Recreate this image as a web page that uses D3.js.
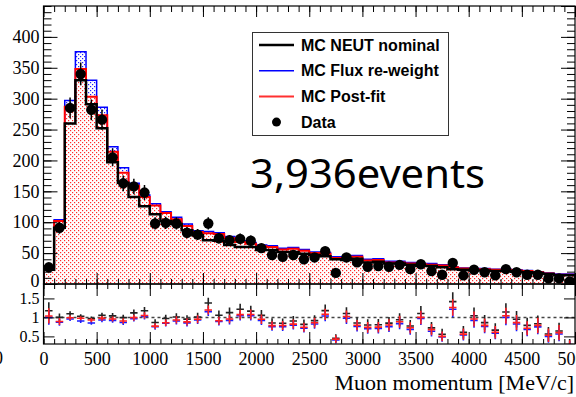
<!DOCTYPE html>
<html>
<head>
<meta charset="utf-8">
<script src="https://cdn.jsdelivr.net/npm/d3@7"></script>
<style>
  body { margin: 0; background: #fff; }
  svg { display: block; }
</style>
</head>
<body>
<div id="chart"></div>
<script>
// bin edges (MeV/c), 100 MeV bins
const binEdges = d3.range(0, 5001, 100);
const xTickLabels = [0, 500, 1000, 1500, 2000, 2500, 3000, 3500, 4000, 4500, 5000];
const yTickLabels = [0, 50, 100, 150, 200, 250, 300, 350, 400];
const ratioTickLabels = [0.5, 1, 1.5];

// events per bin
const dataCounts = [27, 91, 285, 340, 282, 266, 205, 163, 158, 148,
  98, 99, 98, 83, 80, 98, 74, 71, 73, 70,
  58, 47, 44, 47, 40, 43, 53, 18, 43, 35,
  28, 29, 28, 31, 24, 32, 21, 15, 34, 14,
  23, 19, 14, 24, 19, 15, 15, 9, 9, 4];
const mcNominal = [23, 91, 260, 330, 291, 252, 197, 164, 141, 126,
  113, 102, 97, 87, 79, 71, 70, 63, 60, 60,
  55, 55, 52, 52, 49, 47, 45, 40, 39, 41,
  35, 36, 33, 33, 31, 29, 29, 27, 24, 23,
  22, 22, 21, 21, 20, 19, 18, 16, 14, 14];
const mcFlux = [27, 104, 297, 376, 330, 286, 222, 188, 163, 144,
  130, 117, 108, 97, 86, 85, 83, 77, 70, 67,
  63, 62, 58, 59, 56, 52, 51, 44, 44, 46,
  40, 41, 37, 37, 35, 33, 33, 31, 28, 26,
  25, 25, 24, 24, 23, 22, 20, 18, 16, 16];
const mcPostFit = [26, 102, 287, 348, 303, 273, 214, 180, 159, 141,
  127, 115, 105, 94, 84, 82, 81, 74, 68, 65,
  61, 60, 56, 57, 54, 50, 49, 42, 42, 44,
  38, 39, 35, 35, 33, 32, 31, 30, 27, 25,
  24, 24, 23, 23, 22, 21, 19, 17, 15, 15];

const width = 576, height = 397;
const xL = 43.5, xR = 575, yT = 6, yM = 284, yB = 344;

const svg = d3.select("#chart").append("svg")
  .attr("width", width)
  .attr("height", height);

const x = d3.scaleLinear().domain([0, 5000]).range([xL, xR]);
const y = d3.scaleLinear().domain([0, 450]).range([yM, yT]);
const yr = d3.scaleLinear().domain([0.3, 1.88]).range([yB, yM]);

// dot fill patterns
const defs = svg.append("defs");
function dotPattern(id, col) {
  const p = defs.append("pattern").attr("id", id)
    .attr("width", 4).attr("height", 4)
    .attr("patternUnits", "userSpaceOnUse");
  p.append("rect").attr("width", 4).attr("height", 4).attr("fill", "#fff");
  p.append("rect").attr("x", 0).attr("y", 0).attr("width", 1.2).attr("height", 1.2).attr("fill", col);
  p.append("rect").attr("x", 2).attr("y", 2).attr("width", 1.2).attr("height", 1.2).attr("fill", col);
}
dotPattern("redDots", "#ff2a2a");
dotPattern("blueDots", "#2020ff");
defs.append("clipPath").attr("id", "clipTop").append("rect")
  .attr("x", xL).attr("y", yT).attr("width", xR - xL).attr("height", yM - yT);
defs.append("clipPath").attr("id", "clipBot").append("rect")
  .attr("x", xL).attr("y", yM).attr("width", xR - xL).attr("height", yB - yM);

function steps(vals) {
  const pts = [[x(binEdges[0]), y(0)]];
  vals.forEach((v, i) => {
    pts.push([x(binEdges[i]), y(v)], [x(binEdges[i + 1]), y(v)]);
  });
  pts.push([x(binEdges[vals.length]), y(0)]);
  return pts;
}
const line = d3.line();

const upper = svg.append("g").attr("clip-path", "url(#clipTop)");
upper.append("path").attr("d", line(steps(mcFlux)) + "Z").attr("fill", "url(#blueDots)");
upper.append("path").attr("d", line(steps(mcPostFit)) + "Z").attr("fill", "url(#redDots)");
upper.append("path").attr("d", line(steps(mcFlux))).attr("fill", "none")
  .attr("stroke", "#0000ff").attr("stroke-width", 1.5);
upper.append("path").attr("d", line(steps(mcPostFit))).attr("fill", "none")
  .attr("stroke", "#ff0000").attr("stroke-width", 2);
upper.append("path").attr("d", line(steps(mcNominal))).attr("fill", "none")
  .attr("stroke", "#000").attr("stroke-width", 2.5);

// data points with poisson errors
const centres = dataCounts.map((d, i) => (binEdges[i] + binEdges[i + 1]) / 2);
upper.selectAll(".err").data(dataCounts).join("line")
  .attr("x1", (d, i) => x(centres[i])).attr("x2", (d, i) => x(centres[i]))
  .attr("y1", d => y(d + Math.sqrt(d))).attr("y2", d => y(d - Math.sqrt(d)))
  .attr("stroke", "#000").attr("stroke-width", 1.5);
upper.selectAll(".pt").data(dataCounts).join("circle")
  .attr("cx", (d, i) => x(centres[i])).attr("cy", d => y(d))
  .attr("r", 5.2).attr("fill", "#000");

// ratio panel
const lower = svg.append("g").attr("clip-path", "url(#clipBot)");
lower.append("line").attr("x1", xL).attr("x2", xR)
  .attr("y1", yr(1)).attr("y2", yr(1))
  .attr("stroke", "#444").attr("stroke-width", 1.5).attr("stroke-dasharray", "3,3");
const ratioSets = [[mcNominal, "#222"], [mcFlux, "#1a1aff"], [mcPostFit, "#ff2020"]];
ratioSets.forEach(([mc, col]) => {
  const g = lower.append("g").attr("stroke", col).attr("stroke-width", 1.6);
  dataCounts.forEach((d, i) => {
    const r = d / mc[i], e = Math.sqrt(d) / mc[i];
    g.append("line").attr("x1", x(centres[i] - 35)).attr("x2", x(centres[i] + 35))
      .attr("y1", yr(r)).attr("y2", yr(r));
    g.append("line").attr("x1", x(centres[i])).attr("x2", x(centres[i]))
      .attr("y1", yr(r + e)).attr("y2", yr(r - e));
  });
});

// axes
const font = "Liberation Serif, Times New Roman, serif";
function ticks(axis, tx, ty, vals, size, labels, fs = 18) {
  const g = svg.append("g").attr("transform", `translate(${tx},${ty})`)
    .call(axis.tickValues(vals).tickSize(size).tickPadding(labels ? 4 : 0)
      .tickFormat(labels ? d3.format("") : ""));
  g.select(".domain").remove();
  g.selectAll("line").attr("stroke", "#000").attr("stroke-width", 1);
  g.selectAll("text").attr("font-family", font).attr("font-size", fs).attr("fill", "#000");
  return g;
}
const minorX = d3.range(0, 5001, 100);
const majorX = xTickLabels;
// upper panel
const yl = ticks(d3.axisLeft(y), xL, 0, yTickLabels, -14, true);
yl.selectAll("text").filter(d => d === 0).attr("dy", "0.15em");
ticks(d3.axisLeft(y), xL, 0, d3.range(0, 451, 10), -8, false);
ticks(d3.axisRight(y), xR, 0, d3.range(0, 451, 50), -14, false);
ticks(d3.axisRight(y), xR, 0, d3.range(0, 451, 10), -8, false);
ticks(d3.axisTop(x), 0, yT, majorX, -11, false);
ticks(d3.axisTop(x), 0, yT, minorX, -6, false);
ticks(d3.axisBottom(x), 0, yM, majorX, -11, false);
ticks(d3.axisBottom(x), 0, yM, minorX, -5, false);
// lower panel
ticks(d3.axisTop(x), 0, yM, majorX, -12, false);
ticks(d3.axisTop(x), 0, yM, minorX, -5, false);
const xb = ticks(d3.axisBottom(x), 0, yB, majorX, -12, true);
xb.selectAll("text").attr("y", 8);
ticks(d3.axisBottom(x), 0, yB, minorX, -5, false);
ticks(d3.axisLeft(yr), xL, 0, ratioTickLabels, -11, true, 16);
ticks(d3.axisRight(yr), xR, 0, ratioTickLabels, -11, false);

// frames
svg.append("rect").attr("x", xL).attr("y", yT).attr("width", xR - xL).attr("height", yM - yT)
  .attr("fill", "none").attr("stroke", "#000").attr("stroke-width", 1.2);
svg.append("rect").attr("x", xL).attr("y", yM).attr("width", xR - xL).attr("height", yB - yM)
  .attr("fill", "none").attr("stroke", "#000").attr("stroke-width", 1.2);

// clipped stray label at left edge
svg.append("text").attr("x", -6).attr("y", 364).attr("font-family", font)
  .attr("font-size", 18).text("0");

svg.append("text").attr("x", 574).attr("y", 390).attr("text-anchor", "end")
  .attr("font-family", font).attr("font-size", 22).text("Muon momentum [MeV/c]");

// legend
const leg = svg.append("g");
leg.append("rect").attr("x", 252.5).attr("y", 32.5).attr("width", 196).attr("height", 103)
  .attr("fill", "#fff").attr("stroke", "#333").attr("stroke-width", 1);
const legendNames = ["MC NEUT nominal", "MC Flux re-weight", "MC Post-fit", "Data"];
const legendCols = ["#000", "#0000ff", "#ff3030", "#000"];
const legendWidths = [2.5, 1.5, 2, 0];
legendNames.forEach((name, i) => {
  const ly = 45 + i * 25.7;
  if (i < 3) {
    leg.append("line").attr("x1", 259).attr("x2", 294).attr("y1", ly).attr("y2", ly)
      .attr("stroke", legendCols[i]).attr("stroke-width", legendWidths[i]);
  } else {
    leg.append("circle").attr("cx", 276.5).attr("cy", ly).attr("r", 4.5).attr("fill", "#000");
  }
  leg.append("text").attr("x", 301).attr("y", ly).attr("dy", "0.36em")
    .attr("font-family", "Liberation Sans, Arial, sans-serif").attr("font-weight", "bold")
    .attr("font-size", 16).attr("fill", "#000").text(name);
});

svg.append("text").attr("x", 250).attr("y", 188)
  .attr("font-family", "Noto Sans, Open Sans, sans-serif").attr("font-size", 40)
  .attr("textLength", 235).attr("lengthAdjust", "spacingAndGlyphs")
  .attr("fill", "#000").text("3,936events");
</script>
</body>
</html>
